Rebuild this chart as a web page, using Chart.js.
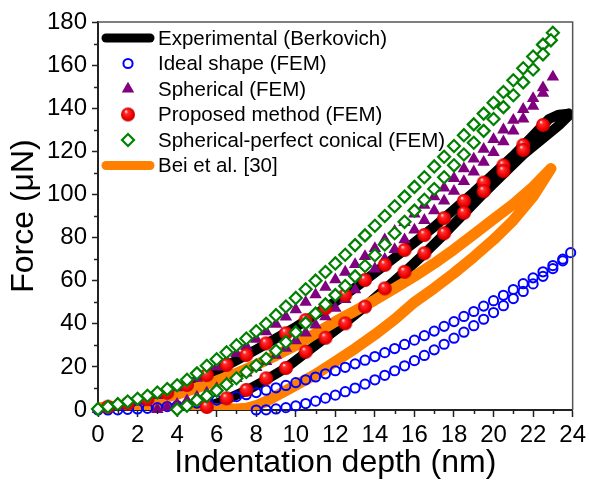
<!DOCTYPE html>
<html>
<head>
<meta charset="utf-8">
<script src="https://cdn.jsdelivr.net/npm/chart.js@4.4.0/dist/chart.umd.min.js"></script>
<style>
  html, body { margin: 0; padding: 0; background: #fff; }
  #wrap { width: 590px; height: 487px; }
</style>
</head>
<body>
<div id="wrap"><canvas id="forceChart" width="590" height="487"></canvas></div>
<script>
// Experimental (Berkovich) - thick black curve
const expLoadDepth = [0, 1, 2, 3, 4, 5, 6, 7, 8, 9, 10, 11, 12, 13, 14, 15, 16, 17, 18, 19, 20, 21, 22, 22.8, 23.3, 23.8];
const expLoadForce = [0, 1.5, 3.5, 6, 9.3, 13.5, 18.3, 23, 28, 33.2, 38.5, 44.3, 50.2, 56.7, 63.7, 70.7, 77.7, 85, 93, 101, 109.5, 118, 127.3, 135, 137, 137.5];
const expUnloadDepth = [23.8, 23.3, 22.5, 21.5, 20.5, 19.5, 18.5, 17.5, 16.5, 15.5, 14.5, 13.5, 12.5, 11.5, 10.5, 9.5, 8.5, 7.5, 6.5, 6, 5.5, 5];
const expUnloadForce = [136.5, 132, 126, 118.5, 109.5, 100.5, 91, 81.5, 72.5, 64, 56, 48, 40.5, 33.5, 26.5, 19.5, 14, 9, 5, 3, 1.3, 0.3];

// Ideal shape (FEM) - open blue circles
const idealLoadDepth = [0, 0.5, 1, 1.5, 2, 2.5, 3, 3.5, 4, 4.5, 5, 5.5, 6, 6.5, 7, 7.5, 8, 8.5, 9, 9.5, 10, 10.5, 11, 11.5, 12, 12.5, 13, 13.5, 14, 14.5, 15, 15.5, 16, 16.5, 17, 17.5, 18, 18.5, 19, 19.5, 20, 20.5, 21, 21.5, 22, 22.5, 23, 23.5, 23.9];
const idealLoadForce = [0, 0, 0.1, 0.3, 0.5, 0.8, 1.1, 1.6, 2, 2.6, 3.2, 3.8, 4.6, 5.4, 6.2, 7.1, 8.1, 9.2, 10.3, 11.4, 12.7, 14, 15.3, 16.8, 18.2, 19.8, 21.4, 23.1, 24.8, 26.6, 28.5, 30.4, 32.4, 34.5, 36.6, 38.8, 41, 43.4, 45.7, 48.2, 50.7, 53.2, 55.9, 58.6, 61.3, 64.1, 67, 70, 73];
const idealUnloadDepth = [8, 8.5, 9, 9.5, 10, 10.5, 11, 11.5, 12, 12.5, 13, 13.5, 14, 14.5, 15, 15.5, 16, 16.5, 17, 17.5, 18, 18.5, 19, 19.5, 20, 20.5, 21, 21.5, 22, 22.5, 23, 23.5];
const idealUnloadForce = [0, 0.1, 0.5, 1.1, 1.9, 3, 4.1, 5.5, 6.9, 8.5, 10.2, 12, 14, 16.1, 18.2, 20.5, 22.9, 25.3, 27.9, 30.5, 33.3, 36.1, 39.1, 42.1, 45.2, 48.4, 51.7, 55, 58.5, 62, 65.6, 69.2];

// Spherical (FEM) - purple triangles
const sphLoadDepth = [0, 0.5, 1, 1.5, 2, 2.5, 3, 3.5, 4, 4.5, 5, 5.5, 6, 6.5, 7, 7.5, 8, 8.5, 9, 9.5, 10, 10.5, 11, 11.5, 12, 12.5, 13, 13.5, 14, 14.5, 15, 15.5, 16, 16.5, 17, 17.5, 18, 18.5, 19, 19.5, 20, 20.5, 21, 21.5, 22, 22.5, 23];
const sphLoadForce = [0.3, 1, 1.8, 2.8, 4, 5.3, 6.8, 8.5, 10.4, 12.5, 14.8, 17.3, 20, 23, 26.2, 29.5, 32.9, 36.3, 39.8, 43.2, 46.6, 50, 53.5, 57, 60.5, 64, 67.5, 71.2, 75, 79, 83, 87, 91, 95, 99, 103, 107.5, 112, 116.5, 121, 125.5, 130, 134.5, 139.5, 144.5, 149.5, 154.5];
const sphUnloadDepth = [3, 3.5, 4, 4.5, 5, 5.5, 6, 6.5, 7, 7.5, 8, 8.5, 9, 9.5, 10, 10.5, 11, 11.5, 12, 12.5, 13, 13.5, 14, 14.5, 15, 15.5, 16, 16.5, 17, 17.5, 18, 18.5, 19, 19.5, 20, 20.5, 21, 21.5, 22, 22.5];
const sphUnloadForce = [0.3, 1.3, 2.7, 4.3, 6, 7.9, 10, 12.3, 14.7, 17.2, 19.8, 22.5, 25.5, 28.7, 32.2, 35.8, 39.5, 43.3, 47.2, 51.3, 55.8, 60.5, 65.5, 70, 74.5, 79, 83.5, 88, 92.5, 97, 101.5, 106, 110.5, 115, 119.5, 124.5, 129.5, 135, 141, 147];

// Proposed method (FEM) - red spheres
const propLoadDepth = [0.5, 1.5, 2.5, 3.5, 4.5, 5.5, 6.5, 7.5, 8.5, 9.5, 10.5, 11.5, 12.5, 13.5, 14.5, 15.5, 16.5, 17.5, 18.5, 19.5, 20.5, 21.5, 22.5];
const propLoadForce = [1.5, 3, 5, 8, 11.6, 16.2, 20.9, 25.5, 30.9, 35.6, 41.7, 47.2, 53.3, 60.3, 67.3, 74.2, 81.2, 89, 97, 105.5, 113.5, 122.9, 132.2];
const propUnloadDepth = [5.5, 6.5, 7.5, 8.5, 9.5, 10.5, 11.5, 12.5, 13.5, 14.5, 15.5, 16.5, 17.5, 18.5, 19.5, 20.5, 21.5];
const propUnloadForce = [1.4, 5.4, 9.3, 14.7, 19.5, 27, 33.5, 40.2, 47.9, 56.4, 64.1, 72.7, 82, 91.5, 101.5, 110.8, 120.6];

// Spherical-perfect conical (FEM) - open green diamonds
const spcLoadDepth = [0, 0.5, 1, 1.5, 2, 2.5, 3, 3.5, 4, 4.5, 5, 5.5, 6, 6.5, 7, 7.5, 8, 8.5, 9, 9.5, 10, 10.5, 11, 11.5, 12, 12.5, 13, 13.5, 14, 14.5, 15, 15.5, 16, 16.5, 17, 17.5, 18, 18.5, 19, 19.5, 20, 20.5, 21, 21.5, 22, 22.5, 23];
const spcLoadForce = [0.5, 1.5, 2.7, 3.9, 5.2, 6.6, 8.1, 9.7, 11.5, 14, 17, 20.5, 23.5, 26.8, 30, 33.2, 36.5, 40, 44, 48, 52, 56, 60, 64, 68, 72, 76.5, 81, 85.5, 90, 94.5, 99, 103.5, 108, 113, 117.5, 122.5, 127.5, 132.5, 137.5, 142.5, 147.5, 153, 158.5, 164, 169.5, 175];
const spcUnloadDepth = [4, 4.5, 5, 5.5, 6, 6.5, 7, 7.5, 8, 8.5, 9, 9.5, 10, 10.5, 11, 11.5, 12, 12.5, 13, 13.5, 14, 14.5, 15, 15.5, 16, 16.5, 17, 17.5, 18, 18.5, 19, 19.5, 20, 20.5, 21, 21.5, 22, 22.5, 22.9];
const spcUnloadForce = [0.3, 2, 4.5, 6.5, 9, 11.8, 14.7, 17.6, 20.6, 23.8, 27.5, 31.5, 36, 40.3, 44.7, 49, 53.3, 57.5, 62, 66.8, 71.8, 76.8, 82, 87.3, 92.5, 97.5, 102.5, 108, 113.5, 118.5, 124, 129.5, 135, 140.5, 146, 152, 158, 165, 171.5];

// Bei et al. [30] - thick orange curve
const beiLoadDepth = [0, 1, 2, 3, 4, 5, 6, 7, 8, 9, 10, 11, 12, 13, 14, 15, 16, 17, 18, 19, 20, 21, 22, 22.9];
const beiLoadForce = [1, 1.8, 3, 4.8, 7.3, 10.3, 13.5, 17, 21, 25.3, 30, 35.5, 41, 46, 51, 56.5, 62, 68, 74.5, 81.5, 88.5, 95.5, 103.5, 112];
const beiUnloadDepth = [22.9, 22, 21, 20, 19, 18, 17, 16, 15, 14, 13, 12, 11, 10, 9.5, 9, 8.5, 8, 7.5, 7, 6, 4, 2, 0];
const beiUnloadForce = [112, 99, 88, 79, 71, 63.5, 56.5, 50, 42, 35, 28.5, 22.5, 16.5, 11.5, 9, 6.5, 4, 2, 0.8, 0.5, 0.5, 0.5, 0.5, 0.5];

const seriesLabels = ['Experimental (Berkovich)', 'Ideal shape (FEM)', 'Spherical (FEM)', 'Proposed method (FEM)', 'Spherical-perfect conical (FEM)', 'Bei et al. [30]'];

const FONT = 'Arial, "Liberation Sans", sans-serif';

function toPoints(xs, ys) {
    return xs.map((x, i) => ({ x: x, y: ys[i] }));
}

// shaded red ball used as the marker for the proposed method
function makeSphere(r) {
    const c = document.createElement('canvas');
    const s = Math.ceil(r * 2) + 2;
    c.width = s;
    c.height = s;
    const g = c.getContext('2d');
    const cx = s / 2, cy = s / 2;
    const grad = g.createRadialGradient(cx - r * 0.3, cy - r * 0.45, r * 0.05, cx, cy, r);
    grad.addColorStop(0, '#ffe8e8');
    grad.addColorStop(0.22, '#ff3030');
    grad.addColorStop(0.75, '#ee0000');
    grad.addColorStop(1, '#c00000');
    g.fillStyle = grad;
    g.beginPath();
    g.arc(cx, cy, r, 0, Math.PI * 2);
    g.fill();
    return c;
}
const redBall = makeSphere(7);

const minorTicks = {
    id: 'minorTicks',
    afterDraw(chart) {
        const { ctx, chartArea: a, scales: { x, y } } = chart;
        ctx.save();
        ctx.strokeStyle = '#222';
        ctx.lineWidth = 1.5;
        ctx.beginPath();
        for (let v = 1; v < 24; v += 2) {
            const px = Math.round(x.getPixelForValue(v)) + 0.5;
            ctx.moveTo(px, a.bottom);
            ctx.lineTo(px, a.bottom + 4);
        }
        for (let v = 10; v < 180; v += 20) {
            const py = Math.round(y.getPixelForValue(v)) + 0.5;
            ctx.moveTo(a.left - 4, py);
            ctx.lineTo(a.left, py);
        }
        ctx.stroke();
        // top and right frame
        ctx.strokeStyle = '#555';
        ctx.lineWidth = 1.5;
        ctx.beginPath();
        ctx.moveTo(a.left, a.top);
        ctx.lineTo(a.right, a.top);
        ctx.lineTo(a.right, a.bottom);
        ctx.stroke();
        ctx.restore();
    }
};

const insideLegend = {
    id: 'insideLegend',
    afterDraw(chart) {
        const { ctx, chartArea: a } = chart;
        ctx.save();
        ctx.font = '20.5px ' + FONT;
        ctx.textBaseline = 'middle';
        chart.data.datasets.forEach((ds, i) => {
            const y = a.top + 16 + i * 25.5;
            if (ds.showLine) {
                ctx.strokeStyle = ds.borderColor;
                ctx.lineWidth = 9;
                ctx.lineCap = 'round';
                ctx.beginPath();
                ctx.moveTo(a.left + 8, y);
                ctx.lineTo(a.left + 52, y);
                ctx.stroke();
            } else {
                ctx.save();
                ctx.fillStyle = ds.pointBackgroundColor;
                ctx.strokeStyle = ds.pointBorderColor;
                ctx.lineWidth = ds.pointBorderWidth;
                Chart.helpers.drawPoint(ctx, {
                    pointStyle: ds.pointStyle,
                    radius: ds.pointRadius,
                    rotation: 0,
                    borderWidth: ds.pointBorderWidth
                }, a.left + 30, y);
                ctx.restore();
            }
            ctx.fillStyle = '#000';
            ctx.fillText(ds.label, a.left + 60, y + 1);
        });
        ctx.restore();
    }
};

const ctxForce = document.getElementById('forceChart').getContext('2d');
new Chart(ctxForce, {
    type: 'scatter',
    data: {
        datasets: [
            {
                label: seriesLabels[0],
                data: toPoints(expLoadDepth, expLoadForce).concat(toPoints(expUnloadDepth, expUnloadForce)),
                showLine: true,
                borderColor: '#000000',
                borderWidth: 10,
                borderJoinStyle: 'round',
                borderCapStyle: 'round',
                tension: 0,
                pointRadius: 0,
                order: 6
            },
            {
                label: seriesLabels[1],
                data: toPoints(idealLoadDepth, idealLoadForce).concat(toPoints(idealUnloadDepth, idealUnloadForce)),
                pointStyle: 'circle',
                pointRadius: 4.6,
                pointBorderWidth: 2,
                pointBorderColor: '#0000ff',
                pointBackgroundColor: 'rgba(255,255,255,0)',
                clip: false,
                order: 4
            },
            {
                label: seriesLabels[2],
                data: toPoints(sphLoadDepth, sphLoadForce).concat(toPoints(sphUnloadDepth, sphUnloadForce)),
                pointStyle: 'triangle',
                pointRadius: 7.2,
                pointBorderWidth: 0,
                pointBorderColor: '#800080',
                pointBackgroundColor: '#800080',
                clip: false,
                order: 3
            },
            {
                label: seriesLabels[3],
                data: toPoints(propLoadDepth, propLoadForce).concat(toPoints(propUnloadDepth, propUnloadForce)),
                pointStyle: redBall,
                pointRadius: 7,
                pointBorderWidth: 0,
                pointBorderColor: '#ff0000',
                pointBackgroundColor: '#ff0000',
                clip: false,
                order: 2
            },
            {
                label: seriesLabels[4],
                data: toPoints(spcLoadDepth, spcLoadForce).concat(toPoints(spcUnloadDepth, spcUnloadForce)),
                pointStyle: 'rectRot',
                pointRadius: 6,
                pointBorderWidth: 2.2,
                pointBorderColor: '#008000',
                pointBackgroundColor: '#ffffff',
                clip: false,
                order: 1
            },
            {
                label: seriesLabels[5],
                data: toPoints(beiLoadDepth, beiLoadForce).concat(toPoints(beiUnloadDepth, beiUnloadForce)),
                showLine: true,
                borderColor: '#ff8000',
                borderWidth: 11,
                borderJoinStyle: 'round',
                borderCapStyle: 'round',
                tension: 0,
                pointRadius: 0,
                order: 5
            }
        ]
    },
    options: {
        responsive: false,
        animation: false,
        devicePixelRatio: 1,
        layout: { padding: { left: 0, right: 13, top: 22, bottom: 0 } },
        plugins: {
            legend: { display: false },
            tooltip: { enabled: false }
        },
        scales: {
            x: {
                type: 'linear',
                min: 0,
                max: 24,
                afterFit: (scale) => { scale.height = 77; },
                ticks: { stepSize: 2, color: '#000', font: { family: FONT, size: 24 }, padding: 4, maxRotation: 0 },
                grid: { drawOnChartArea: false, drawTicks: true, tickLength: 7, tickColor: '#222', tickWidth: 1.5 },
                border: { display: true, color: '#222', width: 2 },
                title: {
                    display: true,
                    text: 'Indentation depth (nm)',
                    color: '#000',
                    font: { family: FONT, size: 32 },
                    padding: { top: 0, bottom: 5 }
                }
            },
            y: {
                type: 'linear',
                min: 0,
                max: 180,
                afterFit: (scale) => { scale.width = 98; },
                ticks: { stepSize: 20, color: '#000', font: { family: FONT, size: 24 }, padding: 5 },
                grid: { drawOnChartArea: false, drawTicks: true, tickLength: 6, tickColor: '#222', tickWidth: 1.5 },
                border: { display: true, color: '#222', width: 2 },
                title: {
                    display: true,
                    text: 'Force (\u03bcN)',
                    color: '#000',
                    font: { family: FONT, size: 32 },
                    padding: { top: 5, bottom: 0 }
                }
            }
        }
    },
    plugins: [minorTicks, insideLegend]
});
</script>
</body>
</html>
